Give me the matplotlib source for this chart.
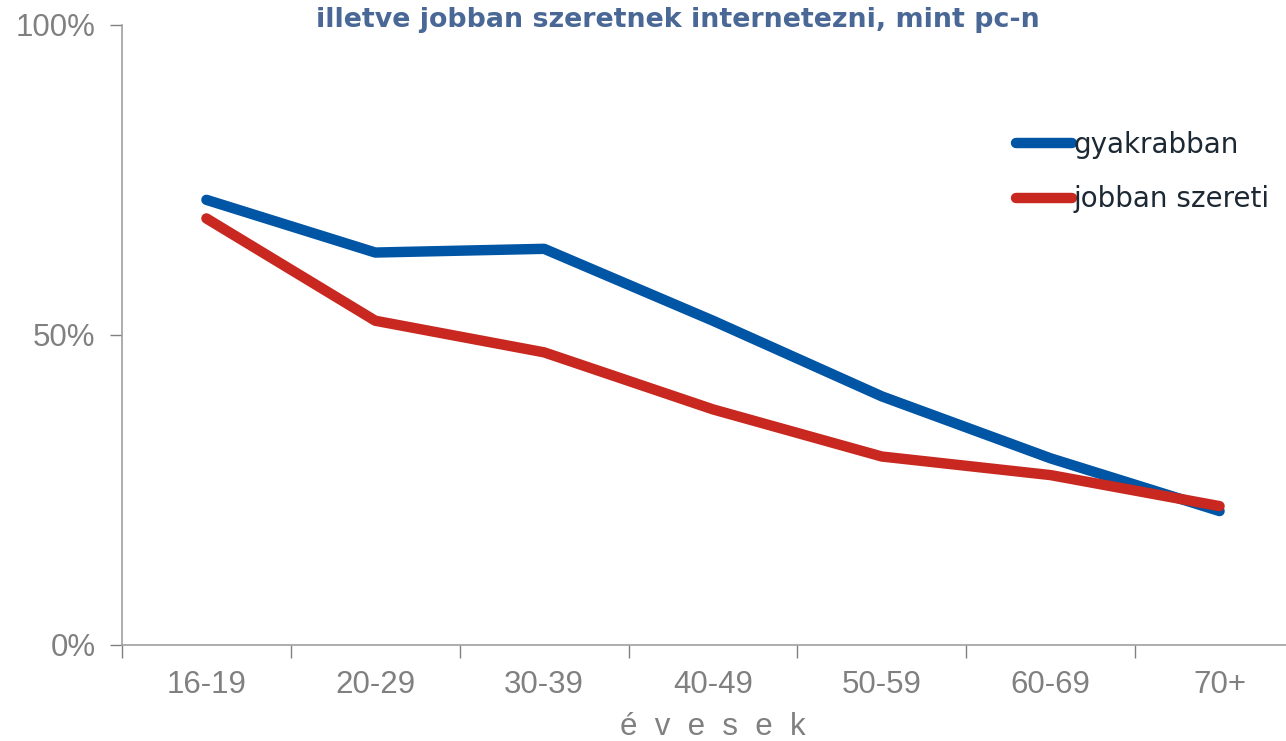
import matplotlib
matplotlib.use("Agg")
import matplotlib.pyplot as plt
from matplotlib.ticker import PercentFormatter

# data
age_groups = ["16-19", "20-29", "30-39", "40-49", "50-59", "60-69", "70+"]
gyakrabban = [71.8, 63.3, 63.9, 52.3, 40.1, 30.1, 21.6]
jobban_szereti = [68.8, 52.3, 47.2, 38.0, 30.4, 27.4, 22.4]

W, H = 1286, 741
fig = plt.figure(figsize=(W / 100, H / 100), dpi=100)
# axis runs off the right edge in the original
ax = fig.add_axes([122 / W, (H - 645) / H, 1182 / W, 620 / H])

grey = "#808080"
x = range(len(age_groups))
ax.plot(x, gyakrabban, color="#0055a5", lw=7.5, solid_capstyle="round",
        solid_joinstyle="round", label="gyakrabban")
ax.plot(x, jobban_szereti, color="#c8281f", lw=7.5, solid_capstyle="round",
        solid_joinstyle="round", label="jobban szereti")

ax.set_xlim(-0.5, len(age_groups) - 0.5)
ax.set_ylim(0, 100)
ax.set_yticks([0, 50, 100])
ax.yaxis.set_major_formatter(PercentFormatter(decimals=0))
ax.set_xticks([i - 0.5 for i in range(len(age_groups) + 1)])
ax.set_xticklabels([])
ax.set_xticks(list(x), minor=True)
ax.set_xticklabels(age_groups, minor=True)
ax.tick_params(axis="x", which="minor", length=0, pad=18)
ax.tick_params(axis="x", which="major", length=9, width=1, color=grey)
ax.tick_params(axis="y", length=9, width=1, color=grey, pad=10)
for lab in ax.get_xticklabels(minor=True) + ax.get_yticklabels():
    lab.set_fontfamily("Liberation Sans")
    lab.set_fontsize(22.5)
    lab.set_color(grey)

for s in ["top", "right"]:
    ax.spines[s].set_visible(False)
for s in ["left", "bottom"]:
    ax.spines[s].set_color("#a0a0a0")
    ax.spines[s].set_linewidth(1.2)

fig.text(713 / W, 1 - 727 / H, "é  v  e  s  e  k", ha="center", va="center",
         family="Liberation Sans", fontsize=22.5, color=grey)

leg = ax.legend(loc="upper left", bbox_to_anchor=(1016 / W, 1 - 131 / H),
                bbox_transform=fig.transFigure, frameon=False,
                handlelength=2.0, handletextpad=0.08, labelspacing=0.95,
                borderpad=0, borderaxespad=0,
                prop={"family": "DejaVu Sans", "size": 20})
for t in leg.get_texts():
    t.set_color("#1c2833")

fig.text(678 / W, 1 - 20 / H, "illetve jobban szeretnek internetezni, mint pc-n",
         ha="center", va="center", fontsize=19.4, fontweight="bold",
         color="#4a6896", family="DejaVu Sans")

fig.savefig("out.png", dpi=100)
